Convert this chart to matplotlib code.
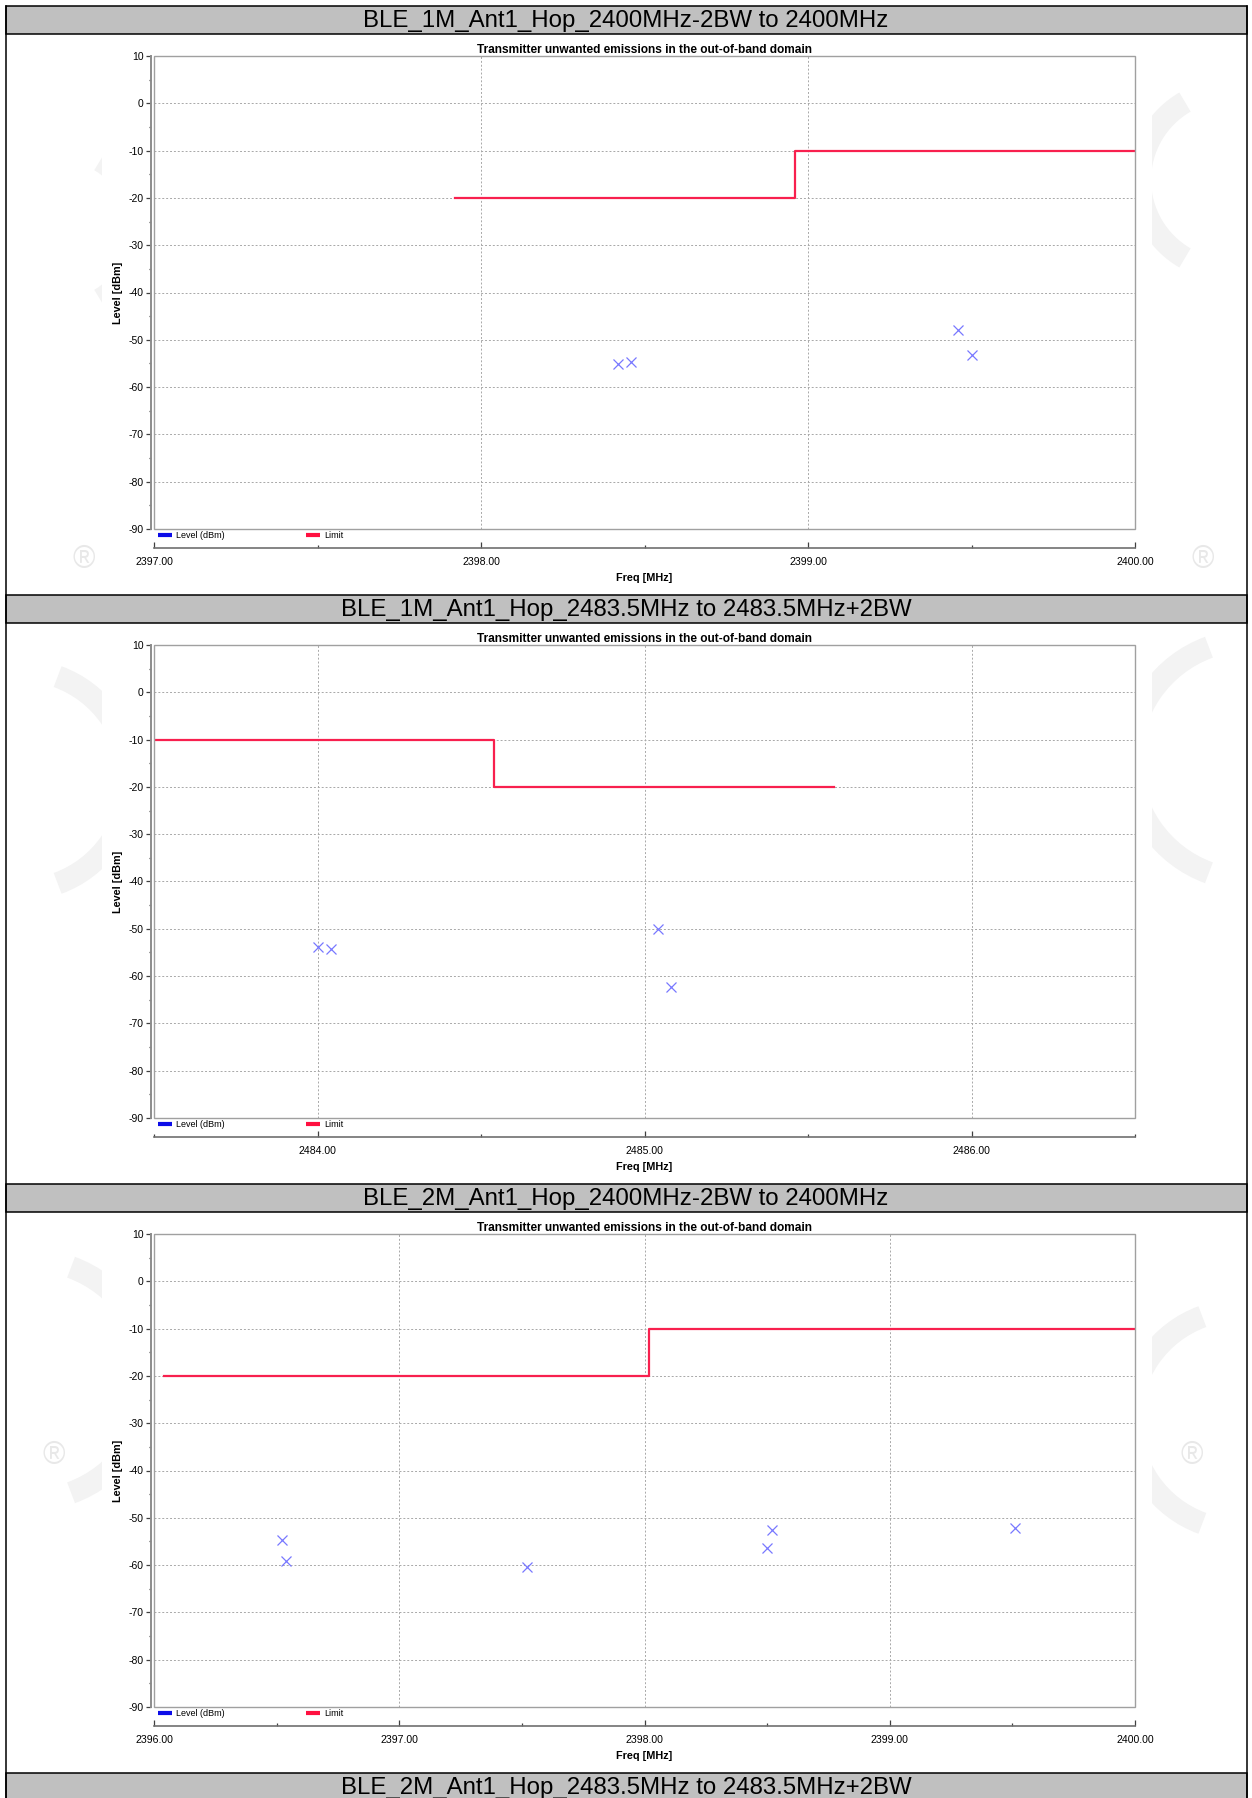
import matplotlib
matplotlib.use("Agg")
import matplotlib.pyplot as plt
from matplotlib.lines import Line2D
from matplotlib.patches import Rectangle, Arc
from matplotlib.ticker import MultipleLocator, FormatStrFormatter

W, H = 1252, 1798
plt.rcParams['axes.unicode_minus'] = False

NARROW = ['Liberation Sans Narrow', 'Liberation Sans', 'DejaVu Sans']
WIDE = ['Liberation Sans', 'DejaVu Sans']

headers = [
    "BLE_1M_Ant1_Hop_2400MHz-2BW to 2400MHz",
    "BLE_1M_Ant1_Hop_2483.5MHz to 2483.5MHz+2BW",
    "BLE_2M_Ant1_Hop_2400MHz-2BW to 2400MHz",
    "BLE_2M_Ant1_Hop_2483.5MHz to 2483.5MHz+2BW",
]
chart_title = "Transmitter unwanted emissions in the out-of-band domain"

freq_span_1 = (2397.0, 2400.0)
freq_span_2 = (2483.5, 2486.5)
freq_span_3 = (2396.0, 2400.0)

# measured peaks (MHz, dBm)
peak_freq_1 = [2398.42, 2398.46, 2399.46, 2399.50]
peak_level_1 = [-55.2, -54.7, -47.9, -53.3]
peak_freq_2 = [2484.00, 2484.04, 2485.04, 2485.08]
peak_level_2 = [-53.8, -54.2, -50.1, -62.3]
peak_freq_3 = [2396.52, 2396.54, 2397.52, 2398.52, 2398.50, 2399.51]
peak_level_3 = [-54.6, -59.2, -60.4, -52.5, -56.4, -52.1]

# limit mask corners, drawn as steps
limit_freq_1 = [2397.92, 2398.96, 2400.0]
limit_level_1 = [-20, -10, -10]
limit_freq_2 = [2483.5, 2484.54, 2485.58]
limit_level_2 = [-10, -20, -20]
limit_freq_3 = [2396.04, 2398.02, 2400.0]
limit_level_3 = [-20, -10, -10]

charts = [
    (freq_span_1, peak_freq_1, peak_level_1, limit_freq_1, limit_level_1),
    (freq_span_2, peak_freq_2, peak_level_2, limit_freq_2, limit_level_2),
    (freq_span_3, peak_freq_3, peak_level_3, limit_freq_3, limit_level_3),
]

BLOCK = 589
HDR_TOP = 6
HDR_H = 28
PLOT_L, PLOT_R = 154, 1135
PLOT_H = 473


def frac(x0, y0, x1, y1):
    return [x0 / W, 1 - y1 / H, (x1 - x0) / W, (y1 - y0) / H]


fig = plt.figure(figsize=(W / 100, H / 100), dpi=100)

# page layer: table frame, header rows, watermark
bg = fig.add_axes([0, 0, 1, 1], zorder=-5)
bg.set_xlim(0, W)
bg.set_ylim(H, 0)
bg.axis('off')

wm = '#f3f3f3'
for cx, cy, r, t1, t2 in [(20, 780, 110, -70, 70), (1250, 760, 120, 110, 250),
                          (30, 1380, 120, -70, 70), (1240, 1420, 110, 110, 250),
                          (1230, 180, 90, 120, 240), (60, 230, 80, -60, 60)]:
    bg.add_patch(Arc((cx, cy), 2 * r, 2 * r, theta1=t1, theta2=t2, color=wm, lw=16))
for x, y in [(84, 560), (1203, 560), (54, 1456), (1192, 1456)]:
    bg.text(x, y, "\u00ae", color='#e8e8e8', fontsize=22, ha='center', va='center',
            family=WIDE)

for i in range(4):
    top = HDR_TOP + BLOCK * i
    bottom = top + HDR_H
    if i < 3:
        bg.add_patch(Rectangle((102, bottom), 1050, BLOCK - HDR_H, facecolor='white',
                               edgecolor='none'))
    bg.add_patch(Rectangle((6, top), 1241, HDR_H, facecolor='#c0c0c0',
                           edgecolor='black', lw=1.1))
    bg.text(626, top + HDR_H / 2 + 1, headers[i], ha='center', va='center',
            fontsize=17.3, family=WIDE, color='black')
bg.plot([6, 6], [HDR_TOP, H], color='black', lw=1.1)
bg.plot([1247, 1247], [HDR_TOP, H], color='black', lw=1.1)

for i, (span, pf, pl, lf, ll) in enumerate(charts):
    top = HDR_TOP + BLOCK * i + HDR_H + 22
    ax = fig.add_axes(frac(PLOT_L, top, PLOT_R, top + PLOT_H))
    ax.set_xlim(*span)
    ax.set_ylim(-90, 10)

    ax.plot(lf, ll, drawstyle='steps-post', color='#f8204e', lw=1.6, zorder=3)
    ax.plot(pf, pl, linestyle='none', marker='x', color='#7878ff', ms=6.5, mew=0.9,
            zorder=4)

    ax.xaxis.set_major_locator(MultipleLocator(1))
    ax.xaxis.set_minor_locator(MultipleLocator(0.5))
    ax.xaxis.set_major_formatter(FormatStrFormatter('%.2f'))
    ax.yaxis.set_major_locator(MultipleLocator(10))
    ax.yaxis.set_minor_locator(MultipleLocator(5))
    ax.grid(which='major', color='#a8a8a8', ls=(0, (2, 2)), lw=0.7)

    for s in ('top', 'right'):
        ax.spines[s].set_visible(False)
    ax.spines['left'].set_position(('outward', 2.3))
    ax.spines['left'].set_color('#8c8c8c')
    ax.spines['left'].set_linewidth(1.4)
    ax.spines['bottom'].set_position(('outward', 13.7))
    ax.spines['bottom'].set_color('#707070')
    ax.spines['bottom'].set_linewidth(1.2)
    ax.add_patch(Rectangle((0, 0), 1, 1, transform=ax.transAxes, fill=False,
                           edgecolor='#a0a0a0', lw=1.0, clip_on=False, zorder=5))

    ax.tick_params(axis='y', which='major', direction='out', length=3.5, width=0.9,
                   color='#404040', labelsize=7.5, pad=1.5)
    ax.tick_params(axis='y', which='minor', direction='out', length=1.8, width=0.9,
                   color='#404040')
    ax.tick_params(axis='x', which='major', direction='in', length=4, width=0.9,
                   color='#404040', labelsize=7.6, pad=6.5)
    ax.tick_params(axis='x', which='minor', direction='in', length=2, width=0.9,
                   color='#404040')
    for lab in ax.get_xticklabels() + ax.get_yticklabels():
        lab.set_family(NARROW)

    ax.set_title(chart_title, fontsize=8.6, fontweight='bold', family=NARROW, pad=2.5)
    ax.set_xlabel('Freq [MHz]', fontsize=7.8, fontweight='bold', family=NARROW)
    ax.xaxis.set_label_coords(0.5, -0.092)
    ax.set_ylabel('Level [dBm]', fontsize=7.8, fontweight='bold', family=NARROW)
    ax.yaxis.set_label_coords(-0.032, 0.5)

    handles = [Line2D([], [], color='#0c0ce8', lw=3, solid_capstyle='butt'),
               Line2D([], [], color='#ff1040', lw=3, solid_capstyle='butt')]
    ax.legend(handles, ['Level (dBm)', 'Limit'], ncol=2, loc='upper left',
              bbox_to_anchor=(0.004, -0.004), frameon=False, borderpad=0,
              borderaxespad=0, handlelength=1.55, handletextpad=0.45,
              columnspacing=9.0, prop={'family': NARROW, 'size': 6.5})

fig.savefig('out.png', dpi=100)
